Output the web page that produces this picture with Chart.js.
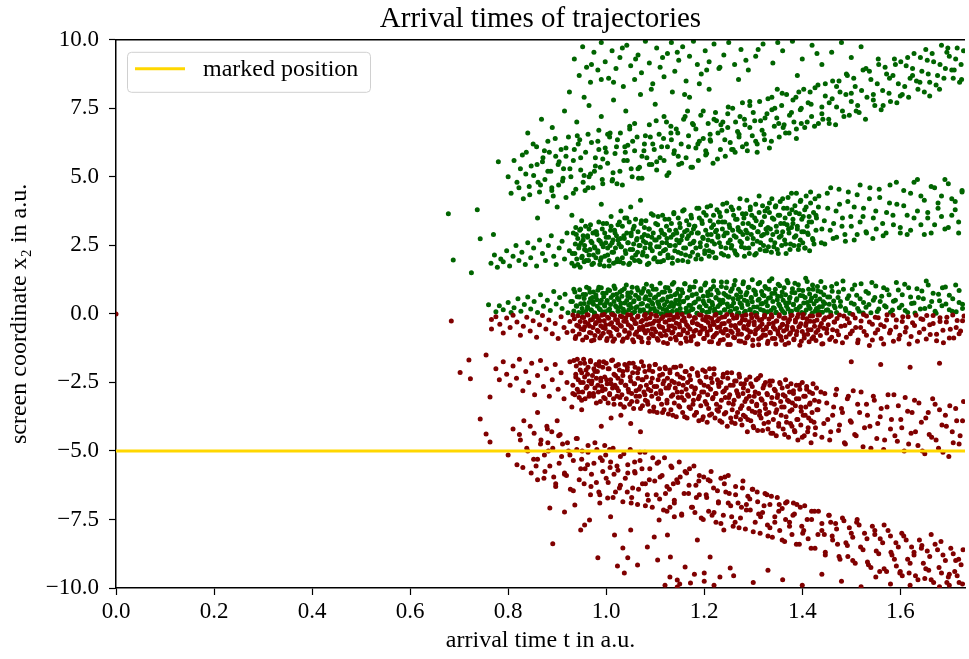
<!DOCTYPE html>
<html>
<head>
<meta charset="utf-8">
<script src="https://cdn.jsdelivr.net/npm/chart.js@4.4.1/dist/chart.umd.min.js"></script>
<style>
html,body{margin:0;padding:0;background:#fff;}
#c{display:block;}
</style>
</head>
<body>
<canvas id="c" width="969" height="659"></canvas>
<script>
// ---- texts ----
const titleText = "Arrival times of trajectories";
const xLabel = "arrival time t in a.u.";
const yLabel = "screen coordinate x\u2082 in a.u.";
const legendLabel = "marked position";

// ---- ticks ----
const xTicks = [0.0, 0.2, 0.4, 0.6, 0.8, 1.0, 1.2, 1.4, 1.6];
const yTicks = [-10, -7.5, -5, -2.5, 0, 2.5, 5, 7.5, 10];
const xRange = [0, 1.732];
const yRange = [-10, 10];

// ---- marked position ----
const markedY = -5;

// ---- green points (x2 > 0) ----
const greenOutliers = [[0.678,3.65],[0.737,3.8],[0.688,1.97],[0.743,2.74],[0.77,2.9],[0.725,1.5],[0.76,0.33],[0.78,5.55]];
const greenBandLow = [[0.775,0.08],[0.782,0.3],[0.79,0.15],[0.80,0.42],[0.806,0.05],[0.812,0.22],[0.82,0.55],[0.826,0.1],[0.833,0.34],[0.84,0.62],[0.846,0.18],[0.853,0.45],[0.86,0.05],[0.866,0.7],[0.872,0.28],[0.88,0.5],[0.886,0.12],[0.893,0.82],[0.898,0.36],[0.905,0.6],[0.91,0.2],[0.916,0.72],[0.922,0.04],[0.928,0.45],[0.934,0.9],[0.94,0.28],[0.945,0.62],
[0.951,0.05],[0.955,0.38],[0.958,0.71],[0.962,0.2],[0.965,0.93],[0.968,0.55],[0.97,0.12],[0.973,0.44],[0.974,0.8],
[0.976,0.03],[0.979,0.62],[0.982,0.28],[0.985,0.97],[0.988,0.15],[0.99,0.5],[0.993,0.75],[0.996,0.33],[0.998,0.08],
[1.001,0.42],[1.004,0.88],[1.007,0.18],[1.01,0.6],[1.013,0.02],[1.016,1.02],[1.019,0.3],[1.021,0.72],[1.024,0.1],
[1.026,0.52],[1.029,0.25],[1.032,0.85],[1.035,0.06],[1.038,0.4],[1.041,1.05],[1.044,0.65],[1.046,0.14],[1.049,0.35],
[1.051,0.78],[1.054,0.03],[1.057,0.48],[1.06,0.22],[1.063,0.95],[1.066,0.6],[1.069,0.1],[1.071,0.36],[1.074,0.82],
[1.076,0.15],[1.079,0.55],[1.082,1.08],[1.085,0.3],[1.088,0.05],[1.09,0.7],[1.093,0.42],[1.096,0.9],[1.098,0.2],
[1.101,0.62],[1.104,0.08],[1.107,0.35],[1.11,1.12],[1.113,0.5],[1.116,0.17],[1.119,0.8],[1.121,0.02],[1.124,0.45],
[1.126,0.95],[1.129,0.27],[1.132,0.64],[1.135,0.1],[1.138,1.15],[1.141,0.38],[1.144,0.75],[1.146,0.05],[1.149,0.52],
[1.151,0.2],[1.154,0.88],[1.157,0.44],[1.16,1.1],[1.163,0.06],[1.166,0.6],[1.169,0.32],[1.171,0.98],[1.174,0.15],
[1.176,0.7],[1.179,0.4],[1.182,1.18],[1.185,0.02],[1.188,0.55],[1.19,0.24],[1.193,0.85],[1.196,0.12],[1.198,0.47],
[1.201,1.05],[1.204,0.3],[1.207,0.66],[1.21,0.08],[1.213,0.9],[1.216,0.42],[1.219,1.2],[1.221,0.18],[1.224,0.58],
[1.226,0.04],[1.229,0.76],[1.232,0.35],[1.235,1.0],[1.238,0.5],[1.241,0.14],[1.244,0.68],[1.246,1.16],[1.249,0.26],
[1.251,0.62],[1.254,0.1],[1.257,0.92],[1.26,0.4],[1.263,1.22],[1.266,0.2],[1.269,0.54],[1.271,0.03],[1.274,0.8],
[1.276,0.33],[1.279,1.1],[1.282,0.06],[1.285,0.7],[1.288,0.45],[1.29,0.96],[1.293,0.16],[1.296,0.58],[1.298,1.25],
[1.301,0.25],[1.304,0.82],[1.307,0.02],[1.31,0.5],[1.313,1.15],[1.316,0.36],[1.319,0.7],[1.321,0.12],[1.324,1.0],
[1.326,0.44],[1.329,0.08],[1.332,0.9],[1.335,0.6],[1.338,1.28],[1.341,0.22],[1.344,0.75],[1.346,0.04],[1.349,0.52],
[1.351,1.08],[1.354,0.3],[1.357,0.64],[1.36,0.1],[1.363,0.95],[1.366,0.4],[1.369,1.22],[1.371,0.18],[1.374,0.56],
[1.376,0.05],[1.379,0.78],[1.382,0.35],[1.385,1.12],[1.388,0.5],[1.39,0.14],[1.393,0.88],[1.396,0.28],
[1.401,0.66],[1.404,0.02],[1.407,1.3],[1.41,0.42],[1.413,0.9],[1.416,0.2],[1.419,0.58],[1.421,1.05],
[1.426,0.1],[1.429,0.48],[1.432,0.84],[1.435,0.26],[1.438,1.18],[1.441,0.06],[1.444,0.7],[1.446,0.38],
[1.452,0.15],[1.456,0.62],[1.46,1.0],[1.465,0.3],[1.47,0.05],[1.474,0.8],[1.478,0.45],[1.483,1.2],[1.488,0.2],[1.492,0.56],[1.497,0.02],[1.502,0.9],[1.506,0.35],[1.511,0.68],[1.516,0.1],[1.52,1.1],[1.525,0.42],[1.53,0.24],[1.535,0.75],[1.54,0.04],[1.545,0.5],[1.55,1.02],[1.556,0.18],[1.562,0.64],[1.568,0.3],[1.573,0.88],[1.58,0.06],[1.586,0.46],[1.592,1.15],[1.598,0.22],[1.604,0.7],[1.61,0.12],[1.617,0.95],[1.623,0.38],[1.63,0.03],[1.637,0.6],[1.644,0.84],[1.65,0.2],[1.657,1.05],[1.664,0.45],[1.671,0.1],[1.678,0.72],[1.685,0.3],[1.692,0.98],[1.7,0.15],[1.707,0.55],[1.714,0.08],[1.72,0.85],[1.727,0.35]];
const greenCoreLow = [[0.931,0.45],[0.934,0.11],[0.936,0.8],[0.939,0.3],[0.941,0.63],[0.944,0.05],[0.946,0.88],[0.948,0.37],[0.951,0.2],[0.953,0.71],
[0.955,0.56],[0.958,0.09],[0.96,0.97],[0.962,0.26],[0.965,0.42],[0.967,0.79],[0.969,0.15],[0.972,0.6],[0.974,0.35],[0.976,0.03],
[0.979,0.69],[0.981,0.52],[0.983,0.86],[0.986,0.19],[0.988,0.4],[0.99,0.95],[0.993,0.07],[0.995,0.63],[0.997,0.29],[1.0,0.76],
[1.002,0.49],[1.004,0.13],[1.007,0.85],[1.009,0.34],[1.011,0.02],[1.014,0.69],[1.016,0.45],[1.018,0.93],[1.021,0.24],[1.023,0.57],
[1.025,0.11],[1.028,0.8],[1.03,0.39],[1.032,0.64],[1.035,0.17],[1.037,0.92],[1.039,0.06],[1.042,0.49],[1.044,0.76],[1.046,0.32],
[1.049,0.6],[1.051,0.22],[1.053,0.97],[1.056,0.44],[1.058,0.08],[1.06,0.68],[1.063,0.26],[1.065,0.86],[1.067,0.55],[1.07,0.14],
[1.072,0.75],[1.074,0.38],[1.077,0.93],[1.079,0.04],[1.081,0.63],[1.084,0.29],[1.086,0.82],[1.088,0.51],[1.091,0.19],[1.093,1.02],
[1.095,0.36],[1.098,0.58],[1.1,0.1],[1.102,0.9],[1.105,0.44],[1.107,0.71],[1.109,0.24],[1.112,0.01],[1.114,0.79],[1.116,0.54],
[1.119,0.33],[1.121,0.96],[1.123,0.16],[1.126,0.62],[1.128,0.05],[1.13,0.84],[1.133,0.41],[1.135,1.08],[1.137,0.27],[1.14,0.7],
[1.142,0.5],[1.144,0.12],[1.147,0.9],[1.149,0.35],[1.151,0.65],[1.154,0.03],[1.156,0.77],[1.158,0.46],[1.161,1.1],[1.163,0.21],
[1.165,0.58],[1.168,0.08],[1.17,0.86],[1.172,0.31],[1.175,0.67],[1.177,0.18],[1.179,0.98],[1.182,0.43],[1.184,0.73],[1.186,0.02],
[1.189,0.54],[1.191,0.26],[1.193,0.92],[1.196,0.12],[1.198,0.64],[1.2,0.38],[1.203,1.13],[1.205,0.06],[1.207,0.8],[1.21,0.48],
[1.212,0.2],[1.214,0.7],[1.217,0.33],[1.219,1.0],[1.221,0.09],[1.224,0.6],[1.226,0.86],[1.228,0.27],[1.231,0.51],[1.233,0.04],
[1.235,1.16],[1.238,0.42],[1.24,0.74],[1.242,0.15],[1.245,0.95],[1.247,0.36],[1.249,0.62],[1.252,0.07],[1.254,0.83],[1.256,0.29],
[1.259,0.55],[1.261,1.05],[1.263,0.18],[1.266,0.69],[1.268,0.02],[1.27,0.9],[1.273,0.4],[1.275,0.63],[1.277,0.23],[1.28,1.17],
[1.282,0.5],[1.284,0.1],[1.287,0.78],[1.289,0.34],[1.291,0.97],[1.294,0.14],[1.296,0.6],[1.298,0.44],[1.301,0.87],[1.303,0.05],
[1.305,0.71],[1.308,0.25],[1.31,1.1],[1.312,0.53],[1.315,0.16],[1.317,0.82],[1.319,0.38],[1.322,0.66],[1.324,0.01],[1.326,0.94],
[1.329,0.3],[1.331,0.57],[1.333,1.2],[1.336,0.12],[1.338,0.74],[1.34,0.45],[1.343,0.21],[1.345,0.9],[1.347,0.06],[1.35,0.64],
[1.352,0.36],[1.354,1.03],[1.357,0.19],[1.359,0.8],[1.361,0.5],[1.364,0.03],[1.366,0.7],[1.368,0.28],[1.371,1.14],[1.373,0.42],
[1.375,0.61],[1.378,0.1],[1.38,0.92],[1.382,0.33],[1.385,0.77],[1.387,0.17],[1.389,0.55],[1.392,1.06],[1.394,0.24],[1.396,0.67],
[1.399,0.05],[1.401,0.85],[1.403,0.4],[1.406,0.6],[1.408,0.14],[1.41,1.18],[1.413,0.3],[1.415,0.73],[1.417,0.48],[1.42,0.02],
[1.422,0.9],[1.424,0.37],[1.427,0.65],[1.429,0.2],[1.431,1.0],[1.434,0.09],[1.436,0.54],[1.438,0.8],[1.441,0.27],[1.443,0.44],
[1.446,0.96],[1.449,0.13],[1.452,0.62],[1.455,0.35],[1.458,0.05],[1.461,0.83],[1.464,0.47],[1.467,0.22],[1.47,1.1],[1.473,0.6],
[1.478,0.28],[1.484,0.9],[1.489,0.12],[1.495,0.66],[1.5,0.4],[1.507,1.05],[1.513,0.2],[1.518,0.55],[1.524,0.03],[1.53,0.82],[1.536,0.34],[1.542,1.15],[1.548,0.6],[1.553,0.09],[1.559,0.45],[1.566,0.95],[1.571,0.25],[1.577,0.7],[1.584,0.14],[1.59,0.5],[1.596,0.87],[1.603,0.32],[1.609,1.08],[1.615,0.05],[1.621,0.62],[1.628,0.4],[1.634,0.92],[1.641,0.18],[1.647,0.55],[1.653,1.2],[1.66,0.27],[1.667,0.75],[1.673,0.02],[1.68,0.48],[1.686,0.95],[1.693,0.36],[1.7,0.68],[1.706,0.1],[1.713,1.05],[1.72,0.42],[1.727,0.2]];
const greenBandMid = [[0.765,1.85],[0.772,2.15],[0.778,1.7],[0.785,2.0],[0.79,1.9],[0.797,2.3],[0.803,1.75],[0.81,2.1],[0.816,2.5],[0.822,1.95],[0.828,2.25],[0.835,1.8],[0.84,2.6],[0.846,2.05],[0.852,2.4],[0.858,1.75],[0.864,2.7],[0.87,2.2],[0.876,1.95],[0.882,2.5],[0.888,2.85],[0.893,2.1],[0.898,1.8],[0.904,2.4],[0.91,2.65],[0.915,2.0],[0.92,2.95],[0.925,2.3],[0.93,1.85],
[0.936,2.2],[0.939,2.9],[0.942,1.8],[0.945,2.5],[0.948,3.1],[0.95,2.05],[0.953,2.7],[0.956,2.35],[0.959,1.95],
[0.962,2.85],[0.965,2.15],[0.968,3.25],[0.971,2.6],[0.974,1.85],[0.977,2.4],[0.98,3.0],[0.983,2.25],[0.985,2.7],
[0.988,1.95],[0.991,2.55],[0.994,3.3],[0.997,2.1],[1.0,2.8],[1.003,2.4],[1.006,1.75],[1.009,3.05],[1.012,2.6],
[1.015,2.25],[1.018,2.95],[1.021,1.9],[1.024,2.7],[1.027,3.35],[1.03,2.45],[1.033,2.05],[1.036,2.85],[1.039,2.3],
[1.042,3.5],[1.045,2.6],[1.048,1.85],[1.051,2.95],[1.054,2.35],[1.057,3.2],[1.06,2.15],[1.063,2.75],[1.066,1.95],
[1.069,2.5],[1.072,3.4],[1.075,2.25],[1.078,2.9],[1.081,2.6],[1.084,1.8],[1.087,3.1],[1.09,2.4],[1.093,2.8],
[1.096,3.6],[1.099,2.05],[1.102,2.7],[1.105,3.25],[1.108,2.45],[1.111,1.9],[1.114,2.95],[1.117,2.3],[1.12,3.45],
[1.123,2.6],[1.126,2.15],[1.129,3.05],[1.132,2.8],[1.135,1.85],[1.138,3.65],[1.141,2.5],[1.144,2.95],[1.147,2.25],
[1.15,3.3],[1.153,2.7],[1.156,1.95],[1.159,3.8],[1.162,2.4],[1.165,3.05],[1.168,2.85],[1.171,2.1],[1.174,3.5],
[1.177,2.6],[1.18,3.2],[1.183,2.0],[1.186,2.95],[1.189,3.85],[1.192,2.45],[1.195,3.4],[1.198,2.75],[1.201,2.2],
[1.204,3.6],[1.207,2.9],[1.21,2.3],[1.213,3.95],[1.216,2.65],[1.219,3.25],[1.222,2.05],[1.225,3.05],[1.228,2.8],
[1.231,3.7],[1.234,2.45],[1.237,3.35],[1.24,2.15],[1.243,2.95],[1.246,4.05],[1.249,2.6],[1.252,3.15],[1.255,2.4],
[1.258,3.8],[1.261,2.85],[1.264,2.2],[1.267,3.45],[1.27,3.05],[1.273,4.2],[1.276,2.6],[1.279,3.3],[1.282,2.1],
[1.285,3.65],[1.288,2.95],[1.291,2.4],[1.294,3.9],[1.297,3.2],[1.3,2.75],[1.303,3.5],[1.306,2.2],[1.309,3.0],
[1.312,4.3],[1.315,2.6],[1.318,3.35],[1.321,2.9],[1.324,3.75],[1.327,2.3],[1.33,3.15],[1.333,4.05],[1.336,2.7],
[1.339,3.5],[1.342,2.45],[1.345,3.9],[1.348,3.0],[1.351,2.2],[1.354,3.6],[1.357,2.85],[1.36,4.2],[1.363,3.3],
[1.366,2.55],[1.369,3.85],[1.372,3.1],[1.375,2.35],[1.378,4.4],[1.381,3.45],[1.384,2.8],[1.387,3.7],[1.39,3.2],
[1.393,2.5],[1.396,4.1],[1.399,3.0],[1.402,3.55],[1.405,2.4],[1.408,3.9],[1.411,2.95],[1.414,3.35],[1.417,4.45],
[1.422,2.7],[1.428,3.6],[1.434,4.3],[1.44,3.1],[1.446,2.55],[1.452,3.85],[1.458,4.6],[1.464,3.3],[1.47,2.8],[1.476,4.0],[1.482,3.5],[1.488,2.65],[1.494,4.45],[1.5,3.2],[1.506,3.9],[1.512,2.9],[1.518,4.7],[1.524,3.55],[1.53,3.0],[1.537,4.2],[1.544,2.75],[1.55,3.75],[1.557,4.55],[1.564,3.3],[1.571,2.95],[1.578,4.05],[1.585,3.6],[1.592,4.8],[1.6,3.15],[1.607,3.95],[1.614,2.9],[1.621,4.4],[1.628,3.5],[1.635,4.9],[1.642,3.25],[1.649,4.15],[1.656,3.7],[1.663,2.95],[1.67,4.6],[1.677,3.85],[1.684,4.3],[1.691,3.1],[1.698,4.75],[1.705,3.6],[1.712,4.1],[1.719,3.35],[1.726,4.5],
[0.86,3.5],[0.9,3.9],[0.95,3.4],[0.99,4.0],[1.03,3.75],[1.07,4.15],[0.88,4.1],[0.93,3.6],[1.01,3.55],[1.05,3.9]];
const greenCoreMid = [[0.931,2.2],[0.933,2.95],[0.935,1.75],[0.937,2.55],[0.938,3.15],[0.94,2.0],[0.942,2.75],[0.944,2.4],[0.946,3.05],[0.947,1.7],[0.949,2.6],[0.951,2.1],[0.953,2.85],[0.955,1.9],[0.956,2.5],[0.958,3.2],[0.96,2.3],[0.962,2.8],[0.964,1.95],[0.965,3.1],[0.967,2.35],[0.969,2.65],[0.971,1.8],[0.973,2.95],[0.974,2.15],[0.976,2.45],[0.978,3.0],[0.979,2.05],
[0.981,2.9],[0.983,2.3],[0.985,3.35],[0.987,1.8],[0.988,2.65],[0.99,2.05],[0.992,3.1],[0.994,2.45],[0.996,1.75],[0.997,2.95],[0.999,2.6],[1.001,3.3],[1.003,2.15],[1.005,2.8],[1.006,1.95],[1.008,2.5],[1.01,3.2],[1.012,2.25],[1.014,2.7],[1.015,1.85],[1.017,3.05],[1.019,2.4],[1.021,2.85],[1.023,2.0],[1.024,3.25],[1.026,2.55],[1.028,1.9],[1.029,2.75],
[1.031,2.45],[1.033,3.2],[1.035,1.85],[1.037,2.75],[1.038,3.5],[1.04,2.2],[1.042,2.95],[1.044,2.6],[1.046,1.8],[1.047,3.35],[1.049,2.35],[1.051,2.85],[1.053,2.05],[1.055,3.1],[1.056,2.55],[1.058,1.95],[1.06,3.45],[1.062,2.7],[1.064,2.25],[1.065,3.0],[1.067,2.5],[1.069,1.9],[1.071,3.3],[1.073,2.8],[1.074,2.15],[1.076,2.65],[1.078,3.15],[1.079,2.4],
[1.081,3.4],[1.083,2.1],[1.085,2.85],[1.087,1.85],[1.088,3.1],[1.09,2.55],[1.092,3.65],[1.094,2.3],[1.096,2.95],[1.097,2.0],[1.099,2.7],[1.101,3.3],[1.103,2.45],[1.105,1.9],[1.106,3.55],[1.108,2.8],[1.11,2.2],[1.112,3.05],[1.114,2.6],[1.115,3.6],[1.117,1.95],[1.119,2.9],[1.121,2.35],[1.123,3.2],[1.124,2.75],[1.126,2.05],[1.128,3.45],[1.129,2.5],
[1.131,2.5],[1.133,3.3],[1.135,2.05],[1.137,2.9],[1.138,3.7],[1.14,2.3],[1.142,3.05],[1.144,2.7],[1.146,1.95],[1.147,3.5],[1.149,2.6],[1.151,3.15],[1.153,2.2],[1.155,2.85],[1.156,3.75],[1.158,2.4],[1.16,3.0],[1.162,2.15],[1.164,3.4],[1.165,2.75],[1.167,1.9],[1.169,3.25],[1.171,2.55],[1.173,3.6],[1.174,2.95],[1.176,2.25],[1.178,3.1],[1.179,2.65],
[1.181,3.2],[1.183,2.4],[1.185,3.85],[1.187,2.15],[1.188,2.95],[1.19,3.5],[1.192,2.6],[1.194,2.0],[1.196,3.3],[1.197,2.8],[1.199,3.7],[1.201,2.3],[1.203,3.05],[1.205,2.5],[1.206,3.9],[1.208,2.7],[1.21,2.1],[1.212,3.4],[1.214,2.9],[1.215,3.15],[1.217,2.25],[1.219,3.6],[1.221,2.55],[1.223,3.0],[1.224,2.05],[1.226,3.8],[1.228,2.85],[1.229,3.35],
[1.231,2.6],[1.233,3.55],[1.235,2.2],[1.237,3.1],[1.238,4.0],[1.24,2.85],[1.242,3.35],[1.244,2.4],[1.246,3.75],[1.247,2.95],[1.249,2.1],[1.251,3.25],[1.253,2.7],[1.255,3.9],[1.256,2.5],[1.258,3.05],[1.26,3.6],[1.262,2.3],[1.264,3.45],[1.265,2.8],[1.267,2.15],[1.269,3.15],[1.271,3.85],[1.273,2.65],[1.274,3.0],[1.276,2.45],[1.278,3.65],[1.279,2.9],
[1.281,3.5],[1.283,2.4],[1.285,3.05],[1.287,4.15],[1.288,2.75],[1.29,3.3],[1.292,2.2],[1.294,3.8],[1.296,2.9],[1.297,3.6],[1.299,2.55],[1.301,3.15],[1.303,2.15],[1.305,4.0],[1.306,3.4],[1.308,2.65],[1.31,3.0],[1.312,3.7],[1.314,2.35],[1.315,3.25],[1.317,2.85],[1.319,3.95],[1.321,2.5],[1.323,3.55],[1.324,2.3],[1.326,3.1],[1.328,2.95],[1.329,3.85],
[1.331,2.45],[1.333,3.7],[1.335,3.1],[1.337,2.25],[1.338,4.2],[1.34,2.9],[1.342,3.45],[1.344,2.6],[1.346,3.95],[1.347,3.2],[1.349,2.35],[1.351,3.6],[1.353,2.8],[1.355,4.1],[1.356,3.3],[1.358,2.5],[1.36,3.0],[1.362,3.85],[1.364,2.7],[1.365,3.5],[1.367,2.2],[1.369,3.25],[1.371,4.25],[1.373,2.95],[1.374,3.65],[1.376,2.55],[1.378,3.15],[1.379,3.8],
[1.381,3.3],[1.383,2.5],[1.385,3.95],[1.387,2.85],[1.388,4.4],[1.39,3.1],[1.392,2.35],[1.394,3.65],[1.396,2.7],[1.397,4.15],[1.399,3.45],[1.401,2.6],[1.403,3.0],[1.405,3.8],[1.406,2.4],[1.408,4.3],[1.41,3.2],[1.412,2.9],[1.414,3.55],[1.415,2.3],[1.417,4.05],[1.419,3.35],[1.421,2.75],[1.423,3.7],[1.424,2.55],[1.426,4.2],[1.428,3.05],[1.429,3.5],
[1.433,3.9],[1.439,2.6],[1.445,3.4],[1.451,4.4],[1.457,3.05],[1.463,2.75],[1.469,3.75],[1.475,4.55],[1.481,3.2],[1.487,2.9],[1.493,4.1],[1.499,3.55],[1.506,2.7],[1.512,4.35],[1.518,3.35],[1.525,3.85],[1.531,2.95],[1.538,4.6],[1.545,3.5],[1.551,3.1],[1.558,4.25],[1.565,2.85],[1.572,3.7],[1.579,4.7],[1.586,3.25],[1.593,4.0],[1.6,2.95],[1.607,4.5],[1.614,3.6],[1.621,3.05],[1.628,4.8],[1.635,3.75],[1.642,4.3],[1.649,2.9],[1.656,3.5],[1.663,4.65],[1.67,3.25],[1.677,4.05],[1.684,3.55],[1.691,4.9],[1.698,3.15],[1.705,4.2],[1.712,3.8],[1.719,2.95],[1.726,4.45]];
const greenBandHigh = [[0.80,5.0],[0.806,4.4],[0.812,5.6],[0.818,4.8],[0.825,5.3],[0.831,4.2],[0.837,5.9],[0.843,4.65],[0.847,5.4],[0.852,5.05],[0.858,6.1],[0.864,4.45],[0.87,5.55],[0.875,4.9],[0.881,6.3],[0.887,5.2],[0.892,4.3],[0.897,5.75],
[0.903,4.7],[0.908,6.0],[0.913,5.3],[0.918,4.25],[0.923,6.45],[0.928,5.0],[0.933,5.6],[0.938,4.55],[0.943,6.2],[0.948,5.25],[0.953,4.8],[0.958,5.9],[0.963,6.55],[0.968,5.1],[0.973,4.6],[0.978,5.7],[0.983,6.3],[0.988,5.35],[0.993,4.75],[0.998,6.05],
[1.003,5.5],[1.008,6.6],[1.013,4.9],[1.018,5.85],[1.023,6.35],[1.028,5.2],[1.033,4.7],[1.038,6.1],[1.043,5.6],[1.048,6.75],[1.053,5.0],[1.058,5.95],[1.063,6.45],[1.068,5.35],[1.073,4.95],[1.078,6.2],[1.083,5.7],[1.088,6.9],[1.093,5.45],[1.098,6.0],
[1.103,5.25],[1.108,6.55],[1.113,6.1],[1.118,5.6],[1.123,7.0],[1.128,5.15],[1.133,6.35],[1.138,5.85],[1.143,6.75],[1.148,5.45],[1.153,6.2],[1.158,7.1],[1.163,5.7],[1.168,6.5],[1.173,5.35],[1.178,6.9],[1.183,6.05],[1.188,5.6],[1.193,7.25],[1.198,6.4],
[1.203,5.8],[1.208,6.95],[1.213,6.3],[1.218,5.5],[1.223,7.35],[1.228,6.6],[1.233,6.0],[1.238,7.0],[1.243,5.75],[1.248,6.8],[1.253,6.25],[1.258,7.5],[1.263,5.9],[1.268,6.65],[1.273,7.2],[1.278,6.1],[1.283,6.9],[1.288,5.95],[1.293,7.6],[1.298,6.5],
[1.303,7.05],[1.308,6.2],[1.313,7.75],[1.318,6.7],[1.323,6.35],[1.328,7.3],[1.333,6.05],[1.338,7.9],[1.343,6.85],[1.348,7.15],[1.353,6.45],[1.358,7.6],[1.363,6.9],[1.368,8.0],[1.373,6.6],[1.378,7.35],[1.383,7.0],[1.388,6.4],[1.393,8.1],[1.398,7.5],
[1.405,6.8],[1.412,7.7],[1.419,7.2],[1.426,8.25],[1.433,6.95],[1.44,7.55],[1.447,8.4],[1.454,7.1],[1.461,7.85],[1.468,6.9],[1.475,8.5],[1.482,7.4],[1.489,8.0],[1.496,7.25],
[1.505,8.6],[1.513,7.6],[1.521,8.15],[1.529,7.1],[1.537,8.85],[1.545,7.8],[1.553,8.4],[1.561,7.45],[1.569,9.0],[1.577,8.05],[1.585,8.7],[1.593,7.7],[1.601,9.2],[1.609,8.3],[1.617,7.9],[1.625,8.95],[1.633,8.5],[1.641,9.35],[1.649,8.1],[1.657,8.75],[1.665,9.5],[1.673,8.35],[1.681,9.1],[1.689,8.6],[1.697,9.7],[1.705,8.9],[1.713,9.3],[1.721,8.45],[1.729,9.6],
[0.822,4.6],[0.829,5.8],[0.836,5.1],[0.844,4.35],[0.851,6.2],[0.859,5.45],[0.866,4.7],[0.874,5.95],[0.881,5.2],[0.889,4.5],[0.896,6.4],[0.904,5.55],[0.911,4.85],[0.918,6.05],[0.926,5.3],[0.933,4.4],[0.941,6.5],[0.948,5.7],[0.955,5.05],[0.963,4.6],[0.97,6.25],[0.978,5.4],[0.985,6.7],[0.992,4.9],[1.0,5.9],[1.007,6.45],[1.014,5.15],[1.022,4.75],[1.029,6.6],[1.036,5.6],[1.044,6.15],[1.051,5.3],[1.058,6.95],[1.066,4.95],[1.073,5.75],[1.08,6.5],[1.088,5.45],[1.095,6.2],[1.102,7.05],[1.11,5.7],[1.117,6.4],[1.124,5.05],[1.132,6.85],[1.139,5.95],[1.146,6.6],[1.154,5.5],[1.161,7.2],[1.168,6.1],[1.176,5.35],[1.183,6.75],[1.19,6.3],[1.198,7.4],[1.205,5.85],[1.212,6.55],[1.22,7.1],[1.227,5.65],[1.234,6.9],[1.242,6.35],[1.249,7.55],[1.256,6.0],[1.264,7.0],[1.271,6.45],[1.278,7.7],[1.286,6.2],[1.293,6.8],[1.3,7.35],[1.308,5.9],[1.315,7.05],[1.322,6.55],[1.33,7.85],[1.337,6.3],[1.344,7.5],[1.352,6.95],[1.359,8.05],[1.366,6.6],[1.374,7.25],[1.381,7.8],[1.388,6.75],[1.396,7.45],[1.403,8.2],[1.41,7.0],[1.418,7.65],[1.425,6.85],[1.432,8.35],[1.44,7.3],[1.447,7.95],[1.455,6.95],[1.462,8.5],[1.47,7.55],[1.477,8.1],[1.485,7.2],[1.492,8.7],[1.5,7.75],[1.508,8.3],[1.516,7.35],[1.524,8.9],[1.532,7.9],[1.54,8.55],[1.548,7.6],[1.556,9.1],[1.564,8.15],[1.572,8.75],[1.58,7.75],[1.588,9.3],[1.596,8.4],[1.604,8.0],[1.612,9.05],[1.62,8.6],[1.628,9.5],[1.636,8.2],[1.644,8.85],[1.652,9.65],[1.66,8.45],[1.668,9.2],[1.676,8.7],[1.684,9.8],[1.692,8.95],[1.7,9.4],[1.708,8.6],[1.716,9.7],[1.724,9.1]];
const greenHighScatter = [[0.957,4.5],[1.132,6.6],[0.884,5.9],[1.305,6.3],[1.021,6.1],[1.248,7.3],[0.912,4.95],[1.387,7.9],[1.065,5.3],[1.176,6.95],[0.861,4.8],[1.442,7.1],[1.203,5.95],[0.993,5.65],[1.338,7.45],[1.09,6.45],[0.935,6.0],[1.271,6.55],[1.147,5.75],[1.012,4.85],[1.416,8.1],[0.871,5.7],[1.225,7.05],[1.054,6.3],[1.361,6.8],[0.976,5.2],[1.118,7.2],[1.293,7.75],[0.902,5.45],[1.187,6.2],[1.039,5.9],[1.455,7.7],[0.946,6.35],[1.259,6.0],[1.103,5.55],[1.324,7.15],[0.889,4.6],[1.166,7.4],[1.003,6.55],[1.398,6.95],[1.077,5.95],[1.236,6.7],[0.965,5.0],[1.349,8.2],[1.125,6.1],[0.918,5.75],[1.282,7.1],[1.048,6.85],[1.212,6.35],[0.985,6.0],
[1.47,8.3],[1.51,7.4],[1.545,8.0],[1.578,8.6],[1.53,8.95],[1.6,7.95],[1.625,8.7],[1.655,9.25],[1.59,9.1],[1.68,8.2],[1.71,8.9],[1.49,8.75],[1.565,7.6],[1.64,8.45],[1.695,9.55],[1.725,8.55],[1.615,9.35],[1.5,8.05],[1.66,7.95],[1.555,9.3]];
const greenBandTop = [[0.935,9.3],[0.945,8.7],[0.952,9.75],[0.96,9.0],[0.968,8.45],[0.975,9.55],[0.983,8.9],[0.99,9.9],[0.998,9.2],[1.005,8.6],[1.012,9.6],[1.02,8.95],[1.028,9.35],[1.035,8.3],[1.042,9.8],[1.05,9.05],[1.058,8.55],[1.065,9.45],[1.072,8.8],[1.08,9.95],[1.088,9.15],[1.095,8.4],[1.103,9.7],[1.11,9.0],[1.118,8.65],[1.125,9.5],[1.133,9.9],[1.14,8.85],[1.148,9.25],[1.156,9.75],[1.163,8.5],[1.17,9.4],[1.178,9.95],[1.186,9.1],[1.194,8.75],[1.202,9.6],[1.21,9.2],[1.22,9.85],[1.23,8.95],[1.24,9.45],[1.25,9.9],[1.262,9.1],[1.275,9.65],[1.29,8.9],[1.305,9.4],[1.32,9.85],[1.34,9.15],[1.36,9.6],[1.38,9.95],[1.4,9.3],[1.42,9.8],[1.44,9.1],[1.46,9.55],[1.48,9.9],[1.5,9.35],[1.52,9.75],
[0.84,6.6],[0.868,7.1],[0.89,6.8],[0.915,7.4],[0.94,7.0],[0.965,7.6],[0.99,7.2],[1.015,7.8],[1.04,7.4],[1.07,8.0],[1.1,7.65],[1.135,8.1],[1.17,7.9],[1.21,8.2],
[0.925,8.1],[0.97,9.1],[1.015,8.45],[1.06,9.3],[1.092,8.2],[1.145,9.55],[1.19,8.4],[1.232,9.0],[1.27,8.55],[1.31,9.65],[0.955,7.9],[1.033,9.7],[1.115,9.35],[1.205,8.9],[1.285,9.25],[1.35,9.9],[1.39,8.7],[1.43,9.5],[0.99,8.55],[1.16,8.0]];

// ---- red points (x2 < 0) ----
const redOutliers = [[0.0,0.0],[0.684,-0.26],[0.72,-1.68],[0.702,-2.14],[0.723,-2.37],[0.755,-1.5],[0.763,-3.03],[0.743,-3.83],[0.755,-4.38],[0.763,-4.67]];
const redBandHigh = [[0.766,-0.2],[0.766,-0.55],[0.775,-0.1],[0.783,-0.38],[0.79,-0.7],[0.797,-0.15],[0.804,-0.5],[0.81,-0.05],[0.818,-0.3],[0.825,-0.78],[0.831,-0.45],[0.838,-0.12],[0.845,-0.62],[0.851,-0.25],[0.858,-0.85],[0.864,-0.4],[0.87,-0.06],[0.877,-0.55],[0.883,-0.22],[0.89,-0.72],[0.896,-0.35],[0.902,-0.9],[0.908,-0.1],[0.914,-0.5],[0.92,-0.68],[0.926,-0.28],[0.932,-0.04],[0.938,-0.82],[0.944,-0.45],
[0.951,-0.12],[0.954,-0.58],[0.957,-0.3],[0.96,-0.86],[0.963,-0.04],[0.966,-0.44],[0.969,-0.7],[0.972,-0.2],[0.975,-0.95],
[0.978,-0.36],[0.981,-0.08],[0.984,-0.64],[0.987,-0.25],[0.99,-0.8],[0.993,-0.5],[0.996,-0.02],[0.999,-0.4],[1.002,-0.9],
[1.005,-0.16],[1.008,-0.68],[1.011,-0.32],[1.014,-1.0],[1.017,-0.06],[1.02,-0.54],[1.023,-0.22],[1.026,-0.78],[1.029,-0.42],
[1.032,-0.1],[1.035,-0.92],[1.038,-0.6],[1.041,-0.28],[1.044,-0.03],[1.047,-0.74],[1.05,-0.46],[1.053,-0.18],[1.056,-1.02],
[1.059,-0.35],[1.062,-0.66],[1.065,-0.08],[1.068,-0.5],[1.071,-0.88],[1.074,-0.24],[1.077,-0.6],[1.08,-0.02],[1.083,-0.4],
[1.086,-1.05],[1.089,-0.14],[1.092,-0.72],[1.095,-0.34],[1.098,-0.55],[1.101,-0.06],[1.104,-0.9],[1.107,-0.26],[1.11,-0.48],
[1.113,-0.8],[1.116,-0.1],[1.119,-0.62],[1.122,-0.3],[1.125,-1.08],[1.128,-0.44],[1.131,-0.04],[1.134,-0.7],[1.137,-0.2],
[1.14,-0.52],[1.143,-0.95],[1.146,-0.12],[1.149,-0.38],[1.152,-0.76],[1.155,-0.02],[1.158,-0.58],[1.161,-0.28],[1.164,-1.0],
[1.167,-0.46],[1.17,-0.08],[1.173,-0.84],[1.176,-0.32],[1.179,-0.64],[1.182,-0.16],[1.185,-1.1],[1.188,-0.4],[1.191,-0.72],
[1.194,-0.05],[1.197,-0.56],[1.2,-0.9],[1.203,-0.24],[1.206,-0.66],[1.209,-0.12],[1.212,-0.44],[1.215,-1.02],[1.218,-0.3],
[1.221,-0.78],[1.224,-0.02],[1.227,-0.5],[1.23,-0.18],[1.233,-0.96],[1.236,-0.36],[1.239,-0.7],[1.242,-0.1],[1.245,-0.58],
[1.248,-1.12],[1.251,-0.26],[1.254,-0.62],[1.257,-0.04],[1.26,-0.85],[1.263,-0.42],[1.266,-0.14],[1.269,-0.74],[1.272,-0.34],
[1.275,-1.0],[1.278,-0.08],[1.281,-0.52],[1.284,-0.22],[1.287,-0.88],[1.29,-0.4],[1.293,-0.66],[1.296,-0.02],[1.299,-1.15],
[1.302,-0.3],[1.305,-0.6],[1.308,-0.12],[1.311,-0.92],[1.314,-0.46],[1.317,-0.2],[1.32,-0.78],[1.323,-0.05],[1.326,-0.54],
[1.329,-1.08],[1.332,-0.36],[1.335,-0.7],[1.338,-0.1],[1.341,-0.48],[1.344,-0.9],[1.347,-0.26],[1.35,-0.62],[1.353,-0.03],
[1.356,-0.82],[1.359,-0.4],[1.362,-0.16],[1.365,-1.12],[1.368,-0.56],[1.371,-0.3],[1.374,-0.74],[1.377,-0.06],[1.38,-0.5],
[1.383,-0.94],[1.386,-0.22],[1.389,-0.64],[1.392,-0.02],[1.395,-0.44],[1.398,-1.0],[1.401,-0.14],[1.404,-0.76],
[1.408,-0.34],[1.412,-0.58],[1.416,-0.08],[1.42,-0.9],[1.424,-0.28],[1.428,-0.68],[1.432,-0.04],[1.436,-0.46],[1.44,-1.1],[1.444,-0.2],
[1.45,-0.55],[1.455,-0.1],[1.46,-0.85],[1.466,-0.3],[1.471,-0.62],[1.476,-0.04],[1.482,-1.05],[1.487,-0.42],[1.492,-0.18],[1.498,-0.72],[1.503,-0.02],[1.509,-0.5],[1.514,-0.95],[1.52,-0.26],[1.526,-0.64],[1.531,-0.08],[1.537,-1.15],[1.543,-0.38],[1.549,-0.7],[1.555,-0.14],[1.561,-0.9],[1.567,-0.46],[1.573,-0.03],[1.58,-0.6],[1.586,-1.0],[1.592,-0.22],[1.599,-0.78],[1.605,-0.1],[1.612,-0.5],[1.618,-1.1],[1.625,-0.32],[1.632,-0.05],[1.639,-0.68],[1.646,-0.2],[1.653,-0.92],[1.66,-0.4],[1.667,-0.06],[1.674,-0.74],[1.681,-0.28],[1.688,-1.05],[1.695,-0.12],[1.702,-0.56],[1.709,-0.88],[1.716,-0.24],[1.723,-0.62],[1.73,-0.08],
[1.5,-1.75],[1.56,-1.85],[1.62,-1.95],[1.68,-1.8]];
const redCoreHigh = [[0.932,-0.62],[0.935,-0.18],[0.937,-0.9],[0.94,-0.41],[0.942,-0.07],[0.945,-0.73],[0.947,-0.28],[0.949,-0.55],[0.952,-0.95],[0.954,-0.13],
[0.956,-0.47],[0.959,-0.84],[0.961,-0.03],[0.963,-0.36],[0.966,-0.68],[0.968,-0.22],[0.97,-0.98],[0.973,-0.5],[0.975,-0.1],[0.977,-0.79],
[0.98,-0.31],[0.982,-0.6],[0.984,-0.16],[0.987,-0.88],[0.989,-0.43],[0.991,-0.05],[0.994,-0.71],[0.996,-0.25],[0.998,-0.53],[1.001,-0.97],
[1.003,-0.12],[1.005,-0.66],[1.008,-0.38],[1.01,-0.81],[1.012,-0.02],[1.015,-0.49],[1.017,-0.92],[1.019,-0.2],[1.022,-0.58],[1.024,-0.33],
[1.026,-0.76],[1.029,-0.08],[1.031,-0.45],[1.033,-1.0],[1.036,-0.27],[1.038,-0.63],[1.04,-0.14],[1.043,-0.86],[1.045,-0.4],[1.047,-0.69],
[1.05,-0.04],[1.052,-0.52],[1.054,-0.94],[1.057,-0.23],[1.059,-0.74],[1.061,-0.35],[1.064,-0.11],[1.066,-0.83],[1.068,-0.57],[1.071,-0.29],
[1.073,-1.02],[1.075,-0.46],[1.078,-0.06],[1.08,-0.7],[1.082,-0.19],[1.085,-0.61],[1.087,-0.89],[1.089,-0.37],[1.092,-0.01],[1.094,-0.54],
[1.096,-0.8],[1.099,-0.26],[1.101,-0.65],[1.103,-0.09],[1.106,-0.96],[1.108,-0.42],[1.11,-0.72],[1.113,-0.17],[1.115,-0.5],[1.117,-1.04],
[1.12,-0.3],[1.122,-0.78],[1.124,-0.05],[1.127,-0.59],[1.129,-0.21],[1.131,-0.91],[1.134,-0.44],[1.136,-0.67],[1.138,-0.12],[1.141,-0.85],
[1.143,-0.34],[1.145,-0.02],[1.148,-0.75],[1.15,-0.48],[1.152,-1.07],[1.155,-0.24],[1.157,-0.62],[1.159,-0.15],[1.162,-0.88],[1.164,-0.4],
[1.166,-0.7],[1.169,-0.07],[1.171,-0.55],[1.173,-0.98],[1.176,-0.28],[1.178,-0.81],[1.18,-0.13],[1.183,-0.6],[1.185,-0.36],[1.187,-1.1],
[1.19,-0.03],[1.192,-0.66],[1.194,-0.45],[1.197,-0.2],[1.199,-0.9],[1.201,-0.52],[1.204,-0.1],[1.206,-0.77],[1.208,-0.31],[1.211,-1.02],
[1.213,-0.58],[1.215,-0.17],[1.218,-0.84],[1.22,-0.39],[1.222,-0.05],[1.225,-0.71],[1.227,-0.25],[1.229,-1.08],[1.232,-0.47],[1.234,-0.63],
[1.236,-0.12],[1.239,-0.93],[1.241,-0.35],[1.243,-0.56],[1.246,-0.02],[1.248,-0.79],[1.25,-0.27],[1.253,-1.12],[1.255,-0.42],[1.257,-0.68],
[1.26,-0.16],[1.262,-0.87],[1.264,-0.5],[1.267,-0.08],[1.269,-0.61],[1.271,-0.99],[1.274,-0.32],[1.276,-0.74],[1.278,-0.21],[1.281,-0.46],
[1.283,-1.05],[1.285,-0.04],[1.288,-0.57],[1.29,-0.82],[1.292,-0.29],[1.295,-0.65],[1.297,-0.14],[1.299,-0.95],[1.302,-0.4],[1.304,-0.72],
[1.306,-0.06],[1.309,-0.53],[1.311,-1.13],[1.313,-0.23],[1.316,-0.86],[1.318,-0.37],[1.32,-0.6],[1.323,-0.11],[1.325,-0.78],[1.327,-0.48],
[1.33,-1.0],[1.332,-0.19],[1.334,-0.67],[1.337,-0.03],[1.339,-0.9],[1.341,-0.33],[1.344,-0.55],[1.346,-1.1],[1.348,-0.26],[1.351,-0.73],
[1.353,-0.09],[1.355,-0.5],[1.358,-0.96],[1.36,-0.38],[1.362,-0.62],[1.365,-0.15],[1.367,-0.84],[1.369,-0.44],[1.372,-1.06],[1.374,-0.2],
[1.376,-0.69],[1.379,-0.05],[1.381,-0.57],[1.383,-0.92],[1.386,-0.3],[1.388,-0.76],[1.39,-0.12],[1.393,-0.48],[1.395,-1.14],[1.397,-0.36],
[1.4,-0.64],[1.402,-0.02],[1.404,-0.88],[1.407,-0.42],[1.409,-0.18],[1.411,-0.74],[1.414,-1.02],[1.416,-0.27],[1.418,-0.58],[1.421,-0.08],
[1.423,-0.83],[1.425,-0.45],[1.428,-0.97],[1.43,-0.22],[1.432,-0.6],[1.435,-0.04],[1.437,-0.79],[1.439,-0.35],[1.442,-1.09],[1.444,-0.52],
[1.447,-0.14],[1.45,-0.7],[1.453,-0.4],[1.456,-0.93],[1.459,-0.06],[1.462,-0.58],[1.465,-0.3],[1.468,-1.0],[1.471,-0.17],[1.474,-0.76],
[1.479,-0.45],[1.485,-0.08],[1.49,-0.85],[1.496,-0.32],[1.502,-0.62],[1.508,-0.15],[1.513,-1.05],[1.519,-0.5],[1.525,-0.02],[1.531,-0.78],[1.537,-0.3],[1.543,-0.95],[1.549,-0.12],[1.554,-0.58],[1.56,-0.4],[1.566,-1.1],[1.572,-0.22],[1.578,-0.7],[1.585,-0.05],[1.591,-0.48],[1.597,-0.92],[1.604,-0.28],[1.61,-0.66],[1.616,-0.1],[1.622,-0.82],[1.629,-0.42],[1.635,-1.0],[1.642,-0.18],[1.648,-0.55],[1.654,-0.06],[1.661,-0.75],[1.667,-0.35],[1.674,-0.98],[1.681,-0.14],[1.687,-0.6],[1.694,-0.3],[1.7,-0.88],[1.707,-0.04],[1.714,-0.5],[1.72,-0.72],[1.727,-0.25]];
const redBandMid = [[0.775,-2.0],[0.782,-2.4],[0.79,-1.75],[0.797,-2.2],[0.804,-2.6],[0.81,-1.9],[0.817,-2.35],[0.823,-1.65],[0.83,-2.8],[0.836,-2.1],[0.842,-2.5],[0.848,-1.8],[0.854,-2.95],[0.86,-2.25],[0.866,-1.7],[0.872,-2.65],[0.878,-2.0],[0.884,-3.0],[0.89,-2.4],[0.896,-1.85],[0.902,-2.75],[0.908,-2.15],[0.914,-3.1],[0.92,-2.5],[0.926,-1.75],[0.932,-2.9],
[0.938,-2.3],[0.941,-1.65],[0.944,-2.85],[0.947,-2.05],[0.95,-3.15],[0.953,-2.5],[0.956,-1.8],[0.959,-2.7],[0.962,-2.2],
[0.965,-3.0],[0.968,-1.7],[0.971,-2.45],[0.974,-2.9],[0.977,-2.1],[0.98,-3.25],[0.983,-2.6],[0.986,-1.9],[0.989,-2.35],
[0.992,-2.8],[0.995,-1.75],[0.998,-3.1],[1.001,-2.4],[1.004,-2.0],[1.007,-2.95],[1.01,-2.55],[1.013,-1.68],[1.016,-3.3],
[1.019,-2.25],[1.022,-2.7],[1.025,-1.85],[1.028,-3.05],[1.031,-2.45],[1.034,-2.1],[1.037,-3.4],[1.04,-2.6],[1.043,-1.95],
[1.046,-2.85],[1.049,-2.3],[1.052,-3.2],[1.055,-1.8],[1.058,-2.55],[1.061,-3.0],[1.064,-2.15],[1.067,-2.75],[1.07,-3.45],
[1.073,-2.4],[1.076,-1.9],[1.079,-2.95],[1.082,-2.6],[1.085,-3.3],[1.088,-2.05],[1.091,-2.8],[1.094,-2.35],[1.097,-3.55],
[1.1,-1.85],[1.103,-2.65],[1.106,-3.1],[1.109,-2.25],[1.112,-2.9],[1.115,-3.6],[1.118,-2.45],[1.121,-2.0],[1.124,-3.25],
[1.127,-2.7],[1.13,-2.15],[1.133,-3.0],[1.136,-3.7],[1.139,-2.5],[1.142,-1.95],[1.145,-2.85],[1.148,-3.35],[1.151,-2.3],
[1.154,-3.05],[1.157,-2.6],[1.16,-3.75],[1.163,-2.1],[1.166,-2.95],[1.169,-3.4],[1.172,-2.4],[1.175,-2.0],[1.178,-3.15],
[1.181,-2.75],[1.184,-3.6],[1.187,-2.25],[1.19,-3.0],[1.193,-2.5],[1.196,-3.85],[1.199,-2.85],[1.202,-2.1],[1.205,-3.3],
[1.208,-2.65],[1.211,-3.7],[1.214,-2.35],[1.217,-3.1],[1.22,-2.0],[1.223,-2.9],[1.226,-3.5],[1.229,-2.55],[1.232,-3.9],
[1.235,-3.15],[1.238,-2.3],[1.241,-2.8],[1.244,-3.6],[1.247,-2.15],[1.25,-3.05],[1.253,-2.6],[1.256,-3.95],[1.259,-3.3],
[1.262,-2.45],[1.265,-3.75],[1.268,-2.9],[1.271,-2.2],[1.274,-3.45],[1.277,-4.05],[1.28,-2.7],[1.283,-3.2],[1.286,-2.4],
[1.289,-3.85],[1.292,-3.0],[1.295,-2.55],[1.298,-3.55],[1.301,-4.15],[1.304,-2.85],[1.307,-3.3],[1.31,-2.35],[1.313,-3.7],
[1.316,-3.1],[1.319,-4.25],[1.322,-2.6],[1.325,-3.45],[1.328,-2.9],[1.331,-3.95],[1.334,-2.45],[1.337,-3.25],[1.34,-4.35],
[1.343,-2.75],[1.346,-3.6],[1.349,-3.05],[1.352,-4.1],[1.355,-2.55],[1.358,-3.4],[1.361,-2.95],[1.364,-4.4],[1.367,-3.75],
[1.37,-2.65],[1.373,-3.2],[1.376,-4.0],[1.379,-3.5],[1.382,-2.8],[1.385,-4.3],[1.388,-3.1],[1.391,-3.85],[1.394,-2.6],
[1.397,-3.4],[1.4,-4.5],[1.403,-3.0],[1.406,-3.7],[1.409,-2.75],[1.412,-4.15],[1.415,-3.3],[1.418,-3.9],[1.421,-2.9],
[1.426,-4.4],[1.432,-3.5],[1.438,-2.85],[1.444,-4.0],[1.45,-3.25],[1.456,-4.6],[1.462,-3.7],[1.468,-2.95],[1.474,-4.25],[1.48,-3.45],[1.486,-4.7],[1.492,-3.1],[1.498,-3.9],[1.504,-2.8],[1.51,-4.45],[1.517,-3.6],[1.524,-4.85],[1.531,-3.3],[1.538,-4.1],[1.545,-3.0],[1.552,-4.55],[1.559,-3.75],[1.566,-4.95],[1.573,-3.4],[1.58,-4.2],[1.587,-2.95],[1.594,-4.65],[1.601,-3.85],[1.608,-5.0],[1.615,-3.55],[1.622,-4.35],[1.629,-3.15],[1.636,-4.8],[1.643,-3.95],[1.65,-5.1],[1.657,-3.6],[1.664,-4.5],[1.671,-3.3],[1.678,-4.9],[1.685,-4.05],[1.692,-3.7],[1.699,-5.2],[1.706,-4.3],[1.713,-3.45],[1.72,-4.75],[1.727,-3.9],
[0.86,-3.6],[0.9,-3.9],[0.95,-3.5],[0.99,-4.1],[1.03,-3.7],[1.07,-4.3],[0.88,-4.2],[0.93,-3.4],[1.01,-3.8],[1.05,-4.0]];
const redCoreMid = [[0.932,-2.6],[0.934,-1.7],[0.936,-2.95],[0.938,-2.2],[0.939,-1.9],[0.941,-2.75],[0.943,-2.4],[0.945,-3.05],[0.947,-1.8],[0.948,-2.5],[0.95,-2.15],[0.952,-2.85],[0.954,-1.65],[0.956,-2.3],[0.957,-3.1],[0.959,-2.05],[0.961,-2.65],[0.963,-1.95],[0.965,-2.45],[0.966,-2.9],[0.968,-1.75],[0.97,-2.55],[0.972,-2.25],[0.974,-3.0],[0.975,-2.0],[0.977,-2.7],[0.979,-1.85],[0.98,-2.35],
[0.982,-2.1],[0.984,-2.85],[0.986,-1.75],[0.988,-3.2],[0.989,-2.45],[0.991,-2.65],[0.993,-1.95],[0.995,-3.05],[0.997,-2.3],[0.998,-2.75],[1.0,-1.8],[1.002,-2.55],[1.004,-3.25],[1.006,-2.0],[1.007,-2.9],[1.009,-2.4],[1.011,-1.7],[1.013,-2.7],[1.015,-3.1],[1.016,-2.2],[1.018,-2.6],[1.02,-1.9],[1.022,-3.0],[1.024,-2.35],[1.025,-2.8],[1.027,-2.05],[1.029,-3.3],[1.03,-2.5],
[1.032,-2.95],[1.034,-2.25],[1.036,-3.4],[1.038,-1.85],[1.039,-2.6],[1.041,-3.1],[1.043,-2.05],[1.045,-2.75],[1.047,-1.8],[1.048,-3.3],[1.05,-2.45],[1.052,-2.9],[1.054,-2.15],[1.056,-3.45],[1.057,-2.55],[1.059,-1.95],[1.061,-2.8],[1.063,-3.2],[1.065,-2.35],[1.066,-2.0],[1.068,-3.0],[1.07,-2.65],[1.072,-1.75],[1.074,-3.35],[1.075,-2.4],[1.077,-2.85],[1.079,-2.1],[1.08,-3.15],
[1.082,-2.3],[1.084,-3.2],[1.086,-2.75],[1.088,-1.9],[1.089,-3.55],[1.091,-2.5],[1.093,-3.0],[1.095,-2.1],[1.097,-3.4],[1.098,-2.65],[1.1,-1.85],[1.102,-2.9],[1.104,-3.6],[1.106,-2.4],[1.107,-3.1],[1.109,-2.0],[1.111,-2.8],[1.113,-3.3],[1.115,-2.2],[1.116,-2.55],[1.118,-3.5],[1.12,-1.95],[1.122,-2.7],[1.124,-3.15],[1.125,-2.35],[1.127,-3.65],[1.129,-2.6],[1.13,-2.05],
[1.132,-3.5],[1.134,-2.45],[1.136,-2.95],[1.138,-1.95],[1.139,-3.25],[1.141,-2.7],[1.143,-3.75],[1.145,-2.2],[1.147,-3.05],[1.148,-2.55],[1.15,-3.4],[1.152,-1.9],[1.154,-2.85],[1.156,-3.6],[1.157,-2.35],[1.159,-3.15],[1.161,-2.1],[1.163,-2.75],[1.165,-3.8],[1.166,-2.5],[1.168,-3.0],[1.17,-2.25],[1.172,-3.45],[1.174,-2.65],[1.175,-2.0],[1.177,-3.3],[1.179,-2.9],[1.18,-3.7],
[1.182,-2.7],[1.184,-3.6],[1.186,-2.15],[1.188,-3.1],[1.189,-3.9],[1.191,-2.45],[1.193,-3.35],[1.195,-2.85],[1.197,-2.05],[1.198,-3.75],[1.2,-2.6],[1.202,-3.2],[1.204,-2.3],[1.206,-3.95],[1.207,-2.95],[1.209,-3.45],[1.211,-2.0],[1.213,-2.75],[1.215,-3.65],[1.216,-2.5],[1.218,-3.05],[1.22,-2.2],[1.222,-3.8],[1.224,-2.9],[1.225,-3.3],[1.227,-2.4],[1.229,-3.55],[1.23,-2.65],
[1.232,-3.4],[1.234,-2.5],[1.236,-3.95],[1.238,-2.85],[1.239,-2.2],[1.241,-3.65],[1.243,-3.05],[1.245,-2.7],[1.247,-4.1],[1.248,-2.35],[1.25,-3.25],[1.252,-2.95],[1.254,-3.8],[1.256,-2.15],[1.257,-3.5],[1.259,-2.6],[1.261,-3.15],[1.263,-4.0],[1.265,-2.45],[1.266,-2.8],[1.268,-3.6],[1.27,-3.0],[1.272,-2.3],[1.274,-3.85],[1.275,-2.55],[1.277,-3.35],[1.279,-2.9],[1.28,-3.7],
[1.282,-2.55],[1.284,-3.75],[1.286,-3.1],[1.288,-4.3],[1.289,-2.8],[1.291,-3.45],[1.293,-2.3],[1.295,-3.9],[1.297,-3.2],[1.298,-2.65],[1.3,-4.1],[1.302,-3.0],[1.304,-3.6],[1.306,-2.4],[1.307,-3.35],[1.309,-4.25],[1.311,-2.9],[1.313,-3.55],[1.315,-2.25],[1.316,-3.8],[1.318,-3.15],[1.32,-2.7],[1.322,-4.0],[1.324,-3.3],[1.325,-2.5],[1.327,-3.65],[1.329,-2.95],[1.33,-4.2],
[1.332,-3.6],[1.334,-2.6],[1.336,-4.35],[1.338,-3.05],[1.339,-2.45],[1.341,-3.85],[1.343,-3.3],[1.345,-2.8],[1.347,-4.45],[1.348,-3.5],[1.35,-2.95],[1.352,-4.0],[1.354,-2.5],[1.356,-3.2],[1.357,-3.7],[1.359,-2.7],[1.361,-4.2],[1.363,-3.4],[1.365,-3.0],[1.366,-2.4],[1.368,-3.95],[1.37,-3.15],[1.372,-4.5],[1.374,-2.85],[1.375,-3.55],[1.377,-2.55],[1.379,-4.1],[1.38,-3.25],
[1.382,-2.9],[1.384,-4.25],[1.386,-3.35],[1.388,-2.6],[1.389,-3.85],[1.391,-4.6],[1.393,-3.1],[1.395,-2.75],[1.397,-4.05],[1.398,-3.55],[1.4,-2.5],[1.402,-3.7],[1.404,-4.45],[1.406,-3.0],[1.407,-3.4],[1.409,-2.65],[1.411,-4.3],[1.413,-3.8],[1.415,-2.85],[1.416,-3.25],[1.418,-4.7],[1.42,-3.6],[1.422,-2.55],[1.424,-3.95],[1.425,-3.15],[1.427,-4.15],[1.429,-2.7],[1.43,-3.5],
[1.434,-3.2],[1.44,-4.5],[1.446,-2.9],[1.452,-3.85],[1.458,-4.3],[1.464,-3.4],[1.47,-2.75],[1.476,-4.05],[1.482,-3.6],[1.488,-4.75],[1.494,-3.0],[1.5,-3.95],[1.507,-4.4],[1.513,-3.3],[1.52,-2.85],[1.527,-4.15],[1.533,-3.7],[1.54,-4.9],[1.547,-3.15],[1.554,-4.0],[1.561,-3.45],[1.568,-4.6],[1.575,-2.95],[1.582,-3.85],[1.589,-4.45],[1.596,-3.35],[1.603,-4.15],[1.61,-3.05],[1.617,-4.75],[1.624,-3.6],[1.631,-4.3],[1.638,-3.25],[1.645,-5.0],[1.652,-3.8],[1.659,-4.4],[1.666,-3.1],[1.673,-4.6],[1.68,-3.5],[1.687,-5.05],[1.694,-4.1],[1.701,-3.35],[1.708,-4.7],[1.715,-3.9],[1.722,-4.45],[1.729,-3.2]];
const redBandLow = [[0.8,-5.15],[0.81,-4.2],[0.818,-5.5],[0.825,-4.6],[0.832,-3.9],[0.84,-5.0],[0.847,-5.8],[0.853,-4.35],[0.86,-5.3],[0.866,-4.75],[0.873,-6.0],[0.879,-4.1],[0.885,-5.55],[0.891,-4.9],[0.897,-6.2],[0.903,-4.45],[0.909,-5.2],[0.915,-5.85],[0.921,-4.7],[0.927,-6.4],[0.933,-5.35],[0.939,-4.55],[0.945,-6.05],[0.951,-5.0],[0.957,-5.65],[0.963,-4.8],[0.969,-6.3],[0.975,-5.45],[0.981,-4.95],[0.987,-6.6],[0.993,-5.75],[0.999,-5.15],
[1.004,-6.15],[1.009,-5.4],[1.014,-4.9],[1.019,-6.5],[1.024,-5.7],[1.029,-5.2],[1.034,-6.85],[1.039,-6.0],[1.044,-5.5],[1.049,-4.95],[1.054,-6.35],[1.059,-5.8],[1.064,-6.95],[1.069,-5.35],[1.074,-6.2],[1.079,-5.05],[1.084,-6.6],[1.089,-5.65],[1.094,-7.05],[1.099,-6.1],[1.104,-5.45],[1.109,-6.75],[1.114,-5.9],[1.119,-5.25],[1.124,-7.2],[1.129,-6.4],[1.134,-5.6],[1.139,-6.9],[1.144,-6.05],[1.149,-5.4],[1.154,-7.3],[1.159,-6.55],[1.164,-5.8],[1.169,-6.25],[1.174,-7.05],[1.179,-5.55],[1.184,-6.7],[1.189,-6.1],[1.194,-7.45],[1.199,-5.95],
[1.204,-6.6],[1.209,-7.2],[1.214,-5.75],[1.219,-6.35],[1.224,-7.6],[1.229,-6.85],[1.234,-6.0],[1.239,-7.35],[1.244,-6.5],[1.249,-5.9],[1.254,-7.0],[1.259,-7.75],[1.264,-6.3],[1.269,-6.9],[1.274,-7.45],[1.279,-6.1],[1.284,-7.85],[1.289,-6.65],[1.294,-7.15],[1.299,-6.4],[1.304,-7.6],[1.309,-6.85],[1.314,-8.0],[1.319,-7.25],[1.324,-6.55],[1.329,-7.7],[1.334,-6.95],[1.339,-8.15],[1.344,-7.4],[1.349,-6.7],[1.354,-7.9],[1.359,-7.1],[1.364,-8.3],[1.369,-6.85],[1.374,-7.6],[1.379,-8.05],[1.384,-7.3],[1.389,-6.95],[1.394,-8.4],[1.399,-7.75],
[1.405,-7.0],[1.412,-8.2],[1.419,-7.5],[1.426,-8.55],[1.433,-7.2],[1.44,-7.9],[1.447,-8.7],[1.454,-7.35],[1.461,-8.1],[1.468,-7.65],[1.475,-8.85],[1.482,-7.45],[1.489,-8.35],[1.496,-7.8],[1.503,-9.0],[1.511,-7.6],[1.519,-8.5],[1.527,-8.0],[1.535,-9.15],[1.543,-7.75],[1.551,-8.65],[1.559,-8.2],[1.567,-9.3],[1.575,-7.9],[1.583,-8.8],[1.591,-8.35],[1.599,-9.45],[1.607,-8.1],[1.615,-8.95],[1.623,-8.5],[1.631,-9.55],[1.639,-8.25],[1.647,-9.1],[1.655,-8.65],[1.663,-9.7],[1.671,-8.4],[1.679,-9.25],[1.687,-8.8],[1.695,-9.8],[1.703,-8.55],[1.711,-9.4],[1.719,-8.95],[1.727,-9.85],
[0.823,-4.4],[0.83,-5.6],[0.838,-4.9],[0.845,-4.1],[0.852,-5.3],[0.86,-6.05],[0.867,-4.6],[0.875,-5.75],[0.882,-5.0],[0.889,-4.3],[0.897,-6.3],[0.904,-5.45],[0.911,-4.75],[0.919,-5.9],[0.926,-5.15],[0.933,-6.45],[0.941,-4.55],[0.948,-5.65],[0.955,-6.2],[0.963,-5.05],[0.97,-5.85],[0.977,-4.7],[0.985,-6.5],[0.992,-5.35],[1.0,-6.0],[1.007,-4.95],[1.014,-6.7],[1.022,-5.55],[1.029,-6.25],[1.036,-5.1],[1.044,-5.8],[1.051,-6.9],[1.058,-5.4],[1.066,-6.4],[1.073,-5.65],[1.08,-7.0],[1.088,-6.05],[1.095,-5.25],[1.102,-6.6],[1.11,-5.95],[1.117,-7.15],[1.124,-6.3],[1.132,-5.55],[1.139,-6.8],[1.146,-6.15],[1.154,-7.35],[1.161,-5.75],[1.168,-6.55],[1.176,-7.05],[1.183,-6.25],[1.19,-5.9],[1.198,-7.5],[1.205,-6.7],[1.212,-6.1],[1.22,-7.25],[1.227,-6.45],[1.234,-7.65],[1.242,-5.95],[1.249,-6.9],[1.256,-7.4],[1.264,-6.6],[1.271,-7.8],[1.278,-6.35],[1.286,-7.15],[1.293,-6.75],[1.3,-7.95],[1.308,-6.5],[1.315,-7.4],[1.322,-7.0],[1.33,-8.1],[1.337,-6.65],[1.344,-7.6],[1.352,-7.2],[1.359,-8.25],[1.366,-6.9],[1.374,-7.75],[1.381,-7.35],[1.388,-8.4],[1.396,-7.05],[1.403,-7.9],[1.41,-7.5],[1.418,-8.55],[1.425,-7.2],[1.432,-8.05],[1.44,-7.65],[1.447,-8.8],[1.455,-7.35],[1.462,-8.25],[1.47,-7.85],[1.477,-8.95],[1.485,-7.55],[1.492,-8.45],[1.5,-8.0],[1.508,-9.1],[1.516,-7.7],[1.524,-8.6],[1.532,-8.2],[1.54,-9.25],[1.548,-7.9],[1.556,-8.75],[1.564,-8.35],[1.572,-9.4],[1.58,-8.1],[1.588,-8.95],[1.596,-8.5],[1.604,-9.55],[1.612,-8.25],[1.62,-9.1],[1.628,-8.7],[1.636,-9.7],[1.644,-8.45],[1.652,-9.3],[1.66,-8.85],[1.668,-9.8],[1.676,-8.6],[1.684,-9.45],[1.692,-9.0],[1.7,-9.9],[1.708,-8.75],[1.716,-9.55],[1.724,-9.15]];
const redLowScatter = [[0.962,-5.5],[1.137,-6.2],[0.881,-4.7],[1.311,-7.3],[1.027,-6.35],[1.251,-6.55],[0.915,-5.8],[1.382,-6.9],[1.069,-5.05],[1.181,-7.25],[0.857,-5.55],[1.445,-8.05],[1.208,-6.05],[0.997,-4.8],[1.334,-7.8],[1.086,-6.8],[0.94,-4.95],[1.276,-7.05],[1.151,-5.95],[1.016,-5.85],[1.419,-7.2],[0.874,-5.15],[1.229,-6.9],[1.058,-5.75],[1.366,-7.5],[0.98,-6.15],[1.121,-6.55],[1.298,-6.4],[0.906,-4.4],[1.19,-6.6],[1.043,-6.5],[1.458,-7.6],[0.95,-5.3],[1.263,-7.6],[1.107,-5.4],[1.328,-6.6],[0.893,-5.95],[1.17,-5.65],[1.008,-5.6],[1.401,-8.0],[1.08,-6.2],[1.241,-6.2],[0.968,-6.6],[1.353,-6.95],[1.13,-7.05],[0.923,-5.0],[1.286,-6.95],[1.052,-6.7],[1.216,-7.35],[0.988,-5.25],
[1.472,-8.4],[1.512,-7.5],[1.548,-8.05],[1.581,-8.7],[1.533,-9.05],[1.603,-8.0],[1.628,-8.8],[1.658,-9.35],[1.592,-9.2],[1.683,-8.3],[1.713,-9.0],[1.493,-8.85],[1.567,-7.7],[1.643,-8.55],[1.698,-9.6],[1.728,-8.6],[1.618,-9.45],[1.503,-8.15],[1.663,-8.05],[1.558,-9.4]];
const redBandBottom = [[0.891,-8.39],[0.885,-7.08],[0.915,-7.23],[0.936,-6.97],[0.948,-7.88],[0.966,-7.52],[0.987,-6.9],[0.983,-8.9],[1.017,-8.07],[1.034,-8.54],[1.044,-8.9],[1.023,-9.2],[1.037,-9.45],[1.064,-9.16],[1.084,-8.5],[1.108,-7.52],[1.105,-8.98],[1.131,-8.87],[1.145,-9.71],[1.161,-9.23],[1.186,-8.25],[1.2,-9.45],[1.212,-8.87],[1.232,-9.6],[1.24,-7.88],[1.253,-9.27],[1.145,-9.96],[1.172,-9.82],[1.125,-8.07],[1.139,-7.4],[1.098,-8.14],[1.05,-7.88],[1.009,-7.4],[0.956,-7.7],[1.003,-6.72],
[1.12,-9.9],[1.13,-9.6],[1.15,-9.85],[1.18,-9.5],[1.2,-9.75],[1.22,-9.9],[1.26,-9.55],[1.3,-9.8],[1.33,-9.35],[1.36,-9.7],[1.4,-9.9],[1.44,-9.5],[1.48,-9.75],[1.52,-9.95],[1.55,-9.6],[1.58,-9.85],[1.6,-9.4],[1.62,-9.9],[1.65,-9.65],[1.68,-9.95],[1.7,-9.5],[1.72,-9.8]];

// ---- build datasets ----
const toXY = arr => arr.map(p => ({x: p[0], y: p[1]}));
const greenPoints = toXY([].concat(greenOutliers, greenBandLow, greenCoreLow, greenBandMid, greenCoreMid, greenBandHigh, greenHighScatter, greenBandTop));
const redPoints = toXY([].concat(redOutliers, redBandHigh, redCoreHigh, redBandMid, redCoreMid, redBandLow, redLowScatter, redBandBottom));

const FONT = "'Liberation Serif', 'Times New Roman', serif";
const fmt = v => (v < 0 ? '\u2212' : '') + Math.abs(v).toFixed(1);
const GOLD = '#FFD700';

const legendAndSpine = {
  id: 'legendAndSpine',
  afterDraw(chart) {
    const a = chart.chartArea, ctx = chart.ctx;
    ctx.save();
    // top spine
    ctx.strokeStyle = '#000';
    ctx.lineWidth = 1.5;
    ctx.beginPath();
    ctx.moveTo(a.left, a.top);
    ctx.lineTo(a.right, a.top);
    ctx.stroke();
    // legend frame
    const fx = a.left + 11, fy = a.top + 12;
    ctx.beginPath();
    ctx.roundRect(fx + 0.5, fy + 0.5, 243, 40, 4);
    ctx.fillStyle = 'rgba(255,255,255,0.8)';
    ctx.fill();
    ctx.strokeStyle = '#d0d0d0';
    ctx.lineWidth = 1;
    ctx.stroke();
    // legend sample line
    ctx.strokeStyle = GOLD;
    ctx.lineWidth = 3;
    ctx.beginPath();
    ctx.moveTo(fx + 8, fy + 17);
    ctx.lineTo(fx + 58, fy + 17);
    ctx.stroke();
    // legend text
    ctx.fillStyle = '#000';
    ctx.font = "24px " + FONT;
    ctx.textBaseline = 'middle';
    ctx.textAlign = 'left';
    ctx.fillText(legendLabel, fx + 76, fy + 18);
    ctx.restore();
  }
};

new Chart(document.getElementById('c'), {
  data: {
    datasets: [
      {
        type: 'line',
        label: legendLabel,
        data: [{x: xRange[0], y: markedY}, {x: xRange[1], y: markedY}],
        borderColor: GOLD,
        backgroundColor: GOLD,
        borderWidth: 3,
        pointRadius: 0,
        fill: false,
        clip: 0
      },
      {
        type: 'scatter',
        label: 'x2 < 0',
        data: redPoints,
        backgroundColor: '#800000',
        borderWidth: 0,
        pointRadius: 2.5,
        clip: 0
      },
      {
        type: 'scatter',
        label: 'x2 > 0',
        data: greenPoints,
        backgroundColor: '#006400',
        borderWidth: 0,
        pointRadius: 2.5,
        clip: 0
      }
    ]
  },
  options: {
    responsive: false,
    animation: false,
    devicePixelRatio: 1,
    events: [],
    layout: { padding: 0 },
    scales: {
      x: {
        type: 'linear',
        min: xRange[0],
        max: xRange[1],
        afterBuildTicks: s => { s.ticks = xTicks.map(v => ({value: v})); },
        afterFit: s => { s.height = 71; },
        ticks: {
          callback: v => fmt(v),
          font: { family: FONT, size: 23 },
          color: '#000',
          padding: 3,
          maxRotation: 0,
          autoSkip: false
        },
        grid: { drawOnChartArea: false, drawTicks: true, tickLength: 7, color: '#000', tickWidth: 1.2 },
        border: { display: true, color: '#000', width: 1.5 },
        title: { display: true, text: xLabel, font: { family: FONT, size: 24 }, color: '#000', padding: { top: 0, bottom: 4 } }
      },
      y: {
        type: 'linear',
        min: yRange[0],
        max: yRange[1],
        afterBuildTicks: s => { s.ticks = yTicks.map(v => ({value: v})); },
        afterFit: s => { s.width = 116; },
        ticks: {
          callback: v => fmt(v),
          font: { family: FONT, size: 23 },
          color: '#000',
          padding: 10,
          autoSkip: false
        },
        grid: { drawOnChartArea: false, drawTicks: true, tickLength: 7, color: '#000', tickWidth: 1.2 },
        border: { display: true, color: '#000', width: 1.5 },
        title: { display: true, text: yLabel, font: { family: FONT, size: 24 }, color: '#000', padding: { top: 5, bottom: 0 } }
      }
    },
    plugins: {
      title: {
        display: true,
        text: titleText,
        fullSize: false,
        font: { family: FONT, size: 29, weight: 'normal' },
        color: '#000',
        padding: { top: 2, bottom: 3 }
      },
      legend: { display: false },
      tooltip: { enabled: false }
    }
  },
  plugins: [legendAndSpine]
});
</script>
</body>
</html>
